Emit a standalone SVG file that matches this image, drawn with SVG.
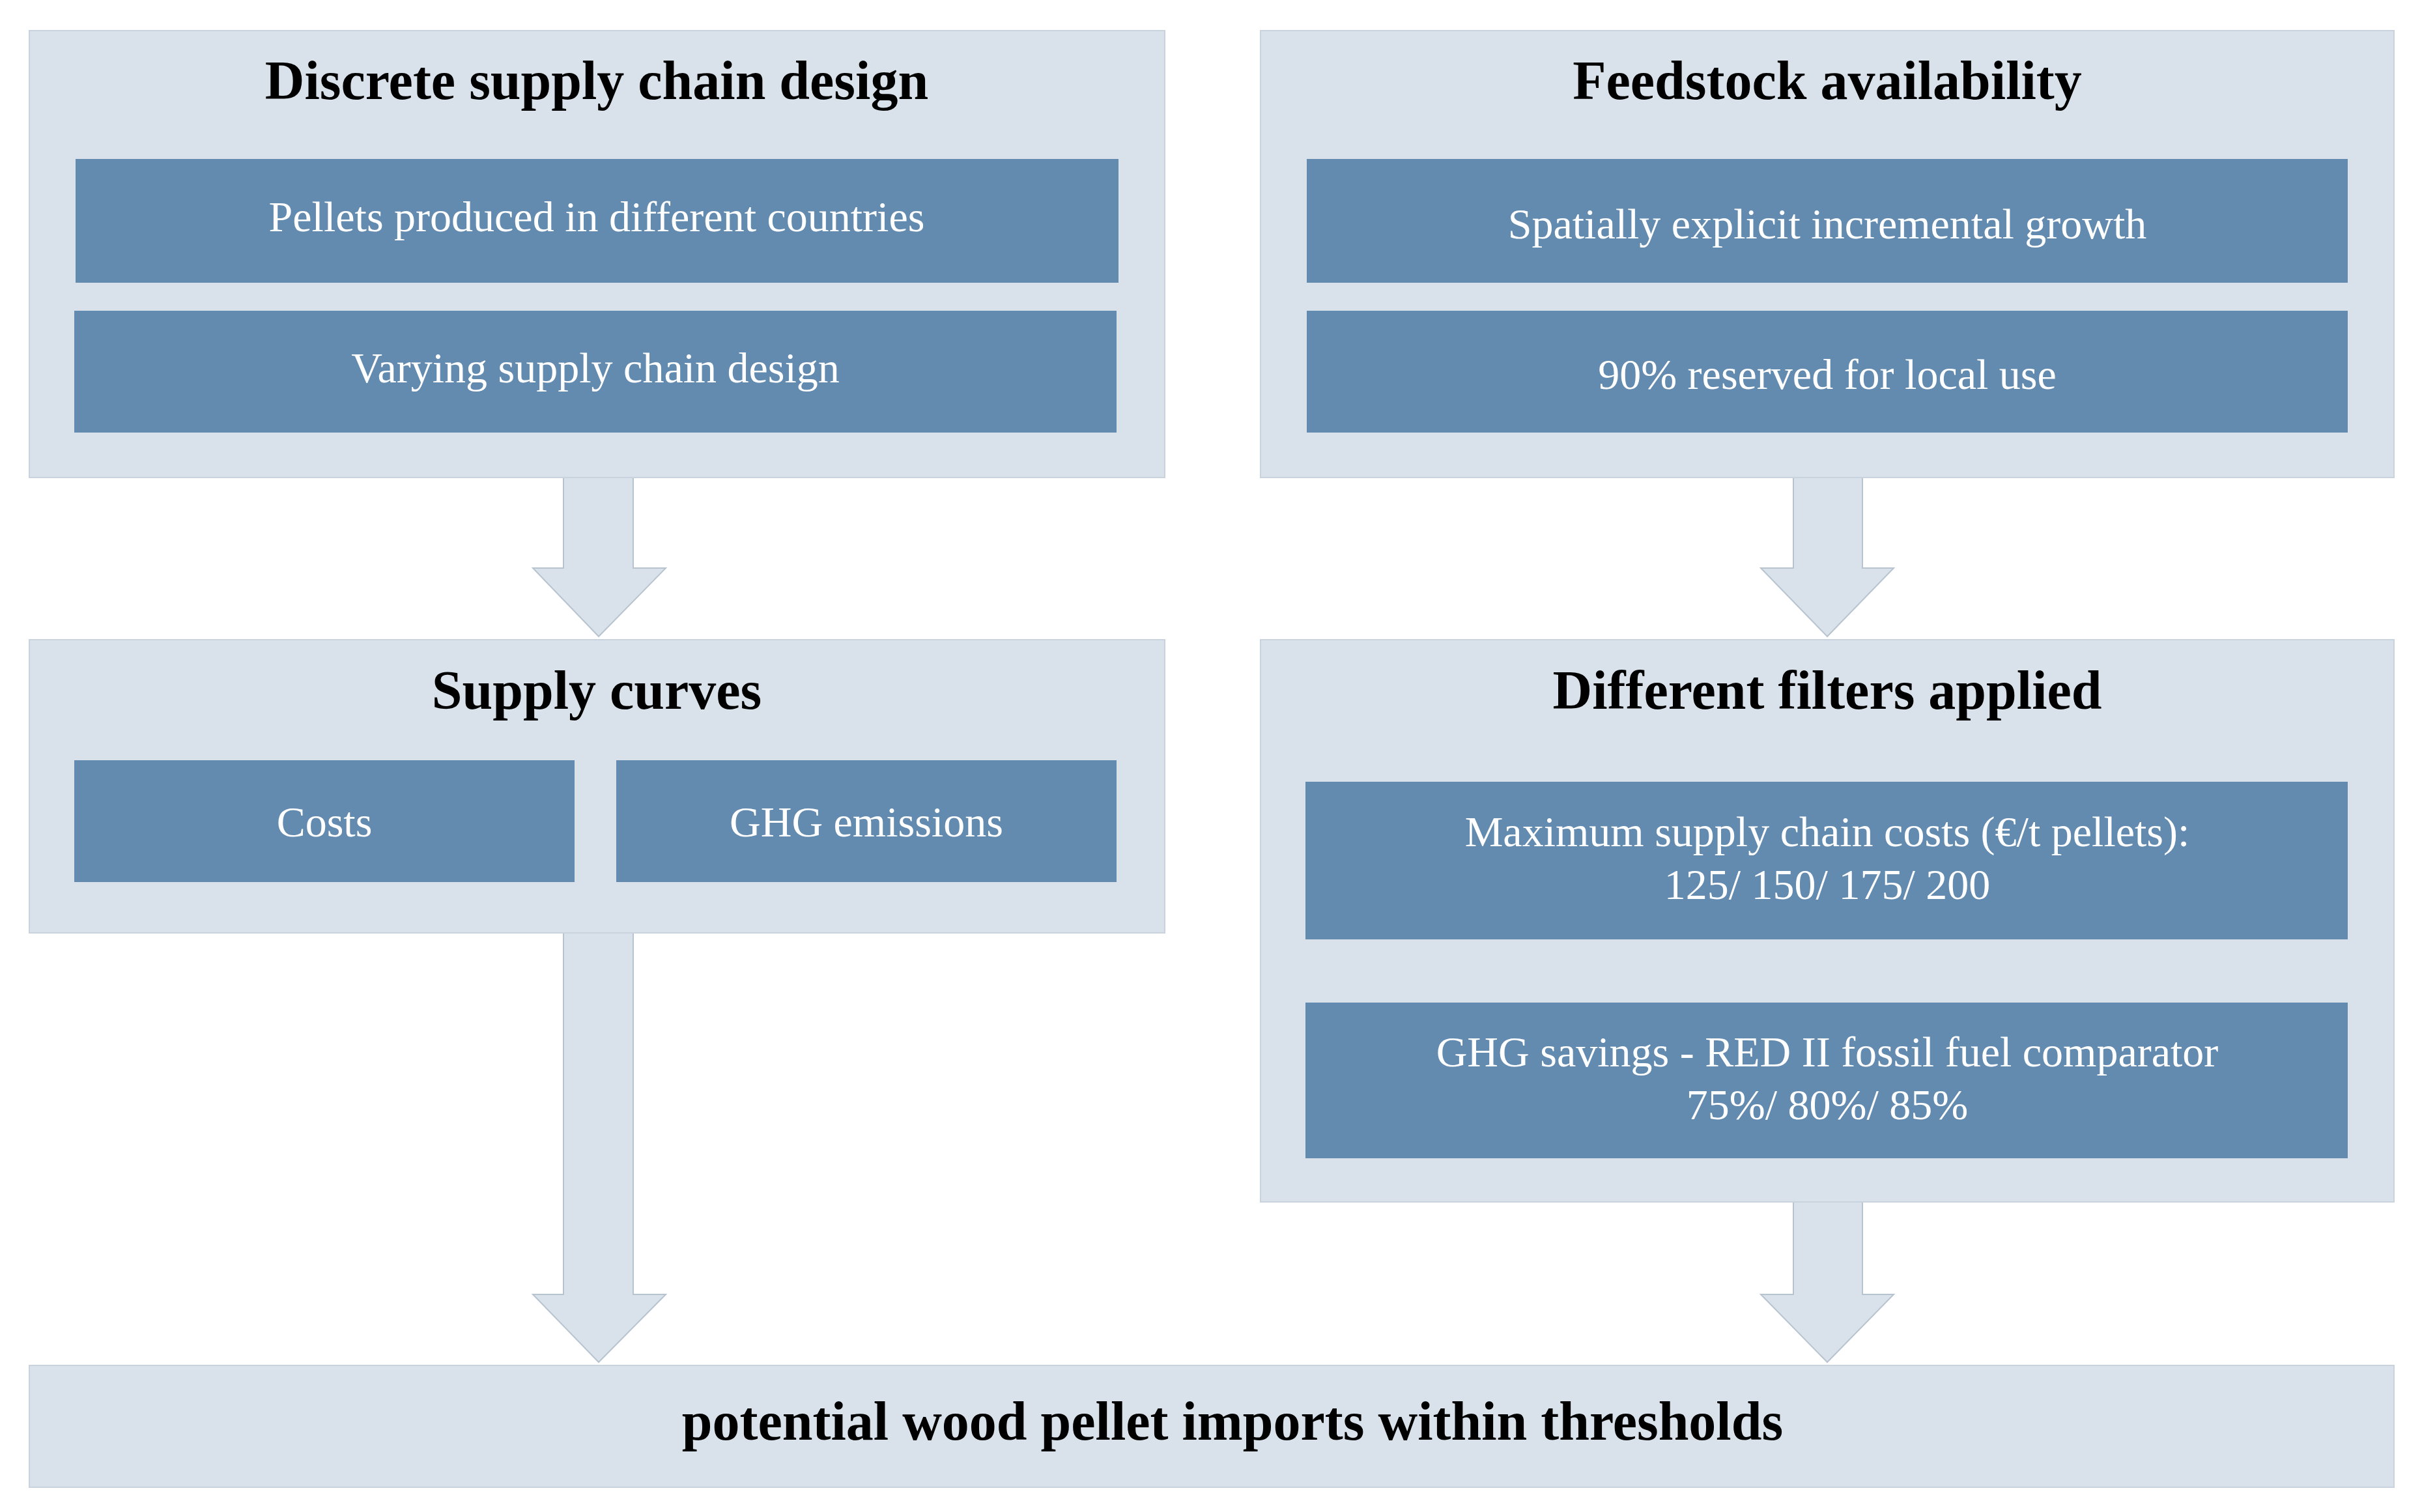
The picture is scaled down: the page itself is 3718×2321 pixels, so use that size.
<svg xmlns="http://www.w3.org/2000/svg" width="3718" height="2321" viewBox="0 0 3718 2321">
<style>
.panel{fill:#d9e2eb;stroke:#c9d3dd;stroke-width:2}
.box{fill:#638bb0}
.arrow{fill:#d9e2eb;stroke:#b7c3cf;stroke-width:2}
.title{font-family:"Liberation Serif",serif;font-weight:bold;font-size:84px;fill:#000;text-anchor:middle}
.txt{font-family:"Liberation Serif",serif;font-size:66px;fill:#fff;text-anchor:middle}
</style>
<rect width="3718" height="2321" fill="#fff"/>
<g id="connectors">
<polygon class="arrow" points="865,733 972,733 972,872 1022,872 919,977 818,872 865,872"/>
<polygon class="arrow" points="2753,733 2859,733 2859,872 2907,872 2805,977 2703,872 2753,872"/>
<polygon class="arrow" points="865,1432 972,1432 972,1987 1022,1987 919,2091 818,1987 865,1987"/>
<polygon class="arrow" points="2753,1845 2859,1845 2859,1987 2907,1987 2805,2091 2703,1987 2753,1987"/>
</g>
<g id="discrete">
<rect class="panel" x="45" y="47" width="1743" height="686"/>
<text class="title" x="916" y="152">Discrete supply chain design</text>
<g id="pellets"><rect class="box" x="116" y="244" width="1601" height="190"/><text class="txt" x="916" y="355">Pellets produced in different countries</text></g>
<g id="varying"><rect class="box" x="114" y="477" width="1600" height="187"/><text class="txt" x="914" y="587">Varying supply chain design</text></g>
</g>
<g id="feedstock">
<rect class="panel" x="1935" y="47" width="1740" height="686"/>
<text class="title" x="2805" y="152">Feedstock availability</text>
<g id="spatial"><rect class="box" x="2006" y="244" width="1598" height="190"/><text class="txt" x="2805" y="366">Spatially explicit incremental growth</text></g>
<g id="reserved"><rect class="box" x="2006" y="477" width="1598" height="187"/><text class="txt" x="2805" y="597">90% reserved for local use</text></g>
</g>
<g id="supply">
<rect class="panel" x="45" y="982" width="1743" height="450"/>
<text class="title" x="916" y="1088">Supply curves</text>
<g id="costs"><rect class="box" x="114" y="1167" width="768" height="187"/><text class="txt" x="498" y="1284">Costs</text></g>
<g id="ghg"><rect class="box" x="946" y="1167" width="768" height="187"/><text class="txt" x="1330" y="1284">GHG emissions</text></g>
</g>
<g id="filters">
<rect class="panel" x="1935" y="982" width="1740" height="863"/>
<text class="title" x="2805" y="1088">Different filters applied</text>
<g id="maxcost"><rect class="box" x="2004" y="1200" width="1600" height="242"/><text class="txt" x="2805" y="1299">Maximum supply chain costs (€/t pellets):</text><text class="txt" x="2805" y="1380">125/ 150/ 175/ 200</text></g>
<g id="ghgsav"><rect class="box" x="2004" y="1539" width="1600" height="239"/><text class="txt" x="2805" y="1637">GHG savings - RED II fossil fuel comparator</text><text class="txt" x="2805" y="1718">75%/ 80%/ 85%</text></g>
</g>
<g id="potential">
<rect class="panel" x="45" y="2096" width="3630" height="187"/>
<text class="title" x="1892" y="2210">potential wood pellet imports within thresholds</text>
</g>
</svg>
